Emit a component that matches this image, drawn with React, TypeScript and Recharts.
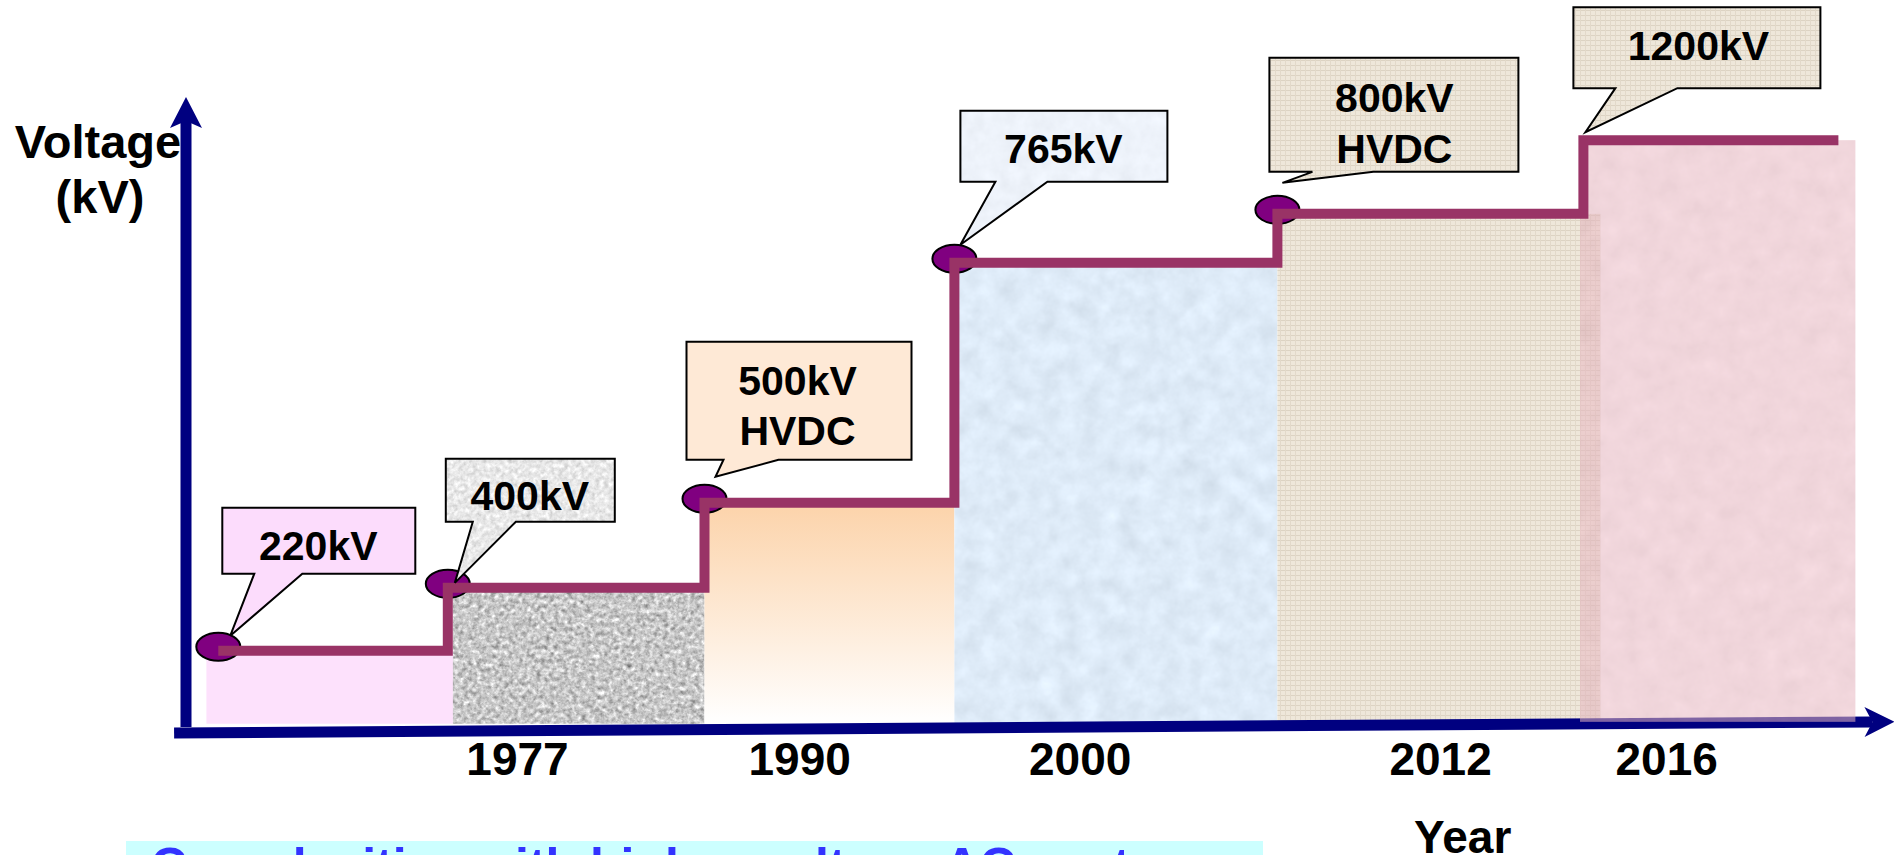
import React from 'react';
import { ComposedChart, Line, XAxis, YAxis, ReferenceArea, ReferenceLine, ReferenceDot } from 'recharts';

// schematic step chart: x and y are relative positions
const voltageLabels = [['220kV'], ['400kV'], ['500kV', 'HVDC'], ['765kV'], ['800kV', 'HVDC'], ['1200kV']];
const stepStart = [1.9, 15.4, 30.5, 45.2, 64.2, 82.2];
const stepEnd = 97.2;
const stepLevel = [12.8, 22.7, 36.1, 73.9, 81.6, 93.2];
const hasMarker = [true, true, true, true, true, false];
const bandFrom = [1.2, 15.7, 30.5, 45.2, 64.2, 82.0];
const bandTo = [15.7, 30.5, 45.2, 64.2, 83.2, 98.2];
const bandFloor = [1.3, 1.3, 1.3, 1.3, 1.3, 1.6];
const yearTicks = [19.5, 36.1, 52.6, 73.8, 87.1];
const yearLabels = ['1977', '1990', '2000', '2012', '2016'];

const lineData = [
  ...stepStart.map((x, i) => ({ x, y: stepLevel[i] })),
  { x: stepEnd, y: stepLevel[stepLevel.length - 1] },
];

const FONT = '"Liberation Sans", Arial, Helvetica, sans-serif';
const AXIS = '#000080';
const STEP = '#993366';

const bandStyle: any[] = [
  { fill: '#FDE1FC' },
  { fill: '#c8c8c8', filter: 'url(#grayGrain)' },
  { fill: 'url(#peachFade)' },
  { fill: '#dde9f5', filter: 'url(#blueGrain)' },
  { fill: 'url(#burlap)' },
  { fill: '#e6b4c0', filter: 'url(#pinkGrain)', opacity: 0.55 },
];

const calloutStyle: any[] = [
  { fill: '#FCDCFC' },
  { fill: '#e6e6e6', filter: 'url(#lightGrain)' },
  { fill: '#FEE9D6' },
  { fill: '#eef4fa', filter: 'url(#paleBlueGrain)' },
  { fill: 'url(#burlap)' },
  { fill: 'url(#burlap)' },
];

// box edges, tail base, tail tip and text placement relative to the step corner (px)
const calloutGeom = [
  { l: 4, r: 197, t: -143, b: -77, a: 36, c: 84, tx: 12, ty: -15, mid: 100, base: [-91] },
  { l: -2, r: 167, t: -129, b: -66, a: 25, c: 68, tx: 7, ty: -5, mid: 82, base: [-78] },
  { l: -18, r: 207, t: -161, b: -43, a: 19, c: 74, tx: 11, ty: -26, mid: 93, base: [-108, -58] },
  { l: 6, r: 213, t: -152, b: -81, a: 41, c: 93, tx: 6, ty: -18, mid: 109, base: [-100] },
  { l: -8, r: 241, t: -156, b: -42, a: 35, c: 96, tx: 5, ty: -31, mid: 117, base: [-102, -51] },
  { l: -10, r: 237, t: -133, b: -52, a: 32, c: 94, tx: 2, ty: -8, mid: 115, base: [-80] },
];

const arrow = (x1: number, y1: number, x2: number, y2: number, head: number, half: number, notch: number) => {
  const len = Math.hypot(x2 - x1, y2 - y1);
  const ux = (x2 - x1) / len;
  const uy = (y2 - y1) / len;
  const bx = x2 - ux * head;
  const by = y2 - uy * head;
  const nx = x2 - ux * notch;
  const ny = y2 - uy * notch;
  const px = -uy;
  const py = ux;
  return (
    <g>
      <line x1={x1} y1={y1} x2={nx} y2={ny} stroke={AXIS} strokeWidth={11} />
      <polygon
        points={`${x2},${y2} ${bx + px * half},${by + py * half} ${nx},${ny} ${bx - px * half},${by - py * half}`}
        fill={AXIS}
      />
    </g>
  );
};

const xAxisShape = (p: any) => arrow(p.x1, p.y1, p.x2, p.y2, 30, 15, 22);

const yAxisShape = (p: any) => (
  <g>
    <text x={p.x2 - 88} y={p.y2 + 61} textAnchor="middle" fontFamily={FONT} fontWeight="bold" fontSize={47} fill="#000">
      Voltage
    </text>
    <text x={p.x2 - 86} y={p.y2 + 116} textAnchor="middle" fontFamily={FONT} fontWeight="bold" fontSize={47} fill="#000">
      (kV)
    </text>
    {arrow(p.x1, p.y1, p.x2, p.y2, 31, 16, 24)}
  </g>
);

const yearTitle = (p: any) => {
  const vb = p.viewBox || { x: 186, y: 732, width: 1700, height: 60 };
  return (
    <text x={vb.x + vb.width * 0.751} y={vb.y + 121} textAnchor="middle" fontFamily={FONT} fontWeight="bold" fontSize={46} fill="#000">
      Year
    </text>
  );
};

const bandShape = (i: number) => (p: any) => {
  const s = bandStyle[i];
  return <rect x={p.x} y={p.y} width={p.width} height={p.height} fill={s.fill} filter={s.filter} opacity={s.opacity} />;
};

const markerShape = (p: any) => (
  <ellipse cx={p.cx} cy={p.cy - 4} rx={22} ry={14} fill="#800080" stroke="#000" strokeWidth={2} />
);

const calloutShape = (i: number) => (p: any) => {
  const g = calloutGeom[i];
  const s = calloutStyle[i];
  const x = p.cx;
  const y = p.cy;
  const d = `M ${x + g.l} ${y + g.t} H ${x + g.r} V ${y + g.b} H ${x + g.c} L ${x + g.tx} ${y + g.ty} L ${x + g.a} ${y + g.b} H ${x + g.l} Z`;
  return (
    <g>
      <path d={d} fill={s.fill} filter={s.filter} />
      <path d={d} fill="none" stroke="#000" strokeWidth={2} />
      {voltageLabels[i].map((txt, k) => (
        <text key={k} x={x + g.mid} y={y + g.base[k]} textAnchor="middle" fontFamily={FONT} fontWeight="bold" fontSize={41} fill="#000">
          {txt}
        </text>
      ))}
    </g>
  );
};

const Textures = () => (
  <svg width={0} height={0} style={{ position: 'absolute' }}>
    <defs>
      <linearGradient id="peachFade" x1="0" y1="0" x2="0" y2="1">
        <stop offset="0" stopColor="#FCD3AA" />
        <stop offset="1" stopColor="#FFFFFF" />
      </linearGradient>
      <pattern id="burlap" width="5" height="5" patternUnits="userSpaceOnUse">
        <rect width="5" height="5" fill="#EEE7DA" />
        <rect width="5" height="1" fill="#DCD3C3" />
        <rect width="1" height="5" fill="#E2D9CA" />
      </pattern>
      <filter id="grayGrain" colorInterpolationFilters="sRGB">
        <feTurbulence type="fractalNoise" baseFrequency="0.22" numOctaves="3" seed="4" result="t" />
        <feColorMatrix in="t" type="matrix" values="0.35 0.35 0.35 0 0.255  0.35 0.35 0.35 0 0.255  0.35 0.35 0.35 0 0.255  0 0 0 0 1" result="g" />
        <feComposite in="g" in2="SourceGraphic" operator="in" />
      </filter>
      <filter id="lightGrain" colorInterpolationFilters="sRGB">
        <feTurbulence type="fractalNoise" baseFrequency="0.22" numOctaves="3" seed="7" result="t" />
        <feColorMatrix in="t" type="matrix" values="0.18 0.18 0.18 0 0.64  0.18 0.18 0.18 0 0.64  0.18 0.18 0.18 0 0.64  0 0 0 0 1" result="g" />
        <feComposite in="g" in2="SourceGraphic" operator="in" />
      </filter>
      <filter id="blueGrain" colorInterpolationFilters="sRGB">
        <feTurbulence type="fractalNoise" baseFrequency="0.05" numOctaves="4" seed="2" result="t" />
        <feColorMatrix in="t" type="matrix" values="0.06 0.06 0.06 0 0.78  0.06 0.06 0.06 0 0.83  0.06 0.06 0.06 0 0.88  0 0 0 0 1" result="g" />
        <feComposite in="g" in2="SourceGraphic" operator="in" />
      </filter>
      <filter id="paleBlueGrain" colorInterpolationFilters="sRGB">
        <feTurbulence type="fractalNoise" baseFrequency="0.06" numOctaves="4" seed="5" result="t" />
        <feColorMatrix in="t" type="matrix" values="0.04 0.04 0.04 0 0.87  0.04 0.04 0.04 0 0.89  0.04 0.04 0.04 0 0.92  0 0 0 0 1" result="g" />
        <feComposite in="g" in2="SourceGraphic" operator="in" />
      </filter>
      <filter id="pinkGrain" colorInterpolationFilters="sRGB">
        <feTurbulence type="fractalNoise" baseFrequency="0.05" numOctaves="4" seed="9" result="t" />
        <feColorMatrix in="t" type="matrix" values="0.05 0.05 0.05 0 0.825  0.05 0.05 0.05 0 0.635  0.05 0.05 0.05 0 0.675  0 0 0 0 1" result="g" />
        <feComposite in="g" in2="SourceGraphic" operator="in" />
      </filter>
    </defs>
  </svg>
);

export default function App() {
  return (
    <div style={{ position: 'fixed', left: 0, top: 0, width: 1894, height: 855, overflow: 'hidden', background: '#fff', fontFamily: FONT }}>
      <Textures />
      <ComposedChart width={1894} height={855} data={lineData} margin={{ top: 97, right: 8, bottom: 63, left: 186 }}>
        <XAxis
          type="number"
          dataKey="x"
          domain={[0, 100]}
          ticks={yearTicks}
          interval={0}
          tickFormatter={(v: number) => yearLabels[yearTicks.indexOf(v)] ?? ''}
          axisLine={false}
          tickLine={false}
          tickMargin={4}
          height={60}
          tick={{ fontSize: 46, fontWeight: 'bold', fill: '#000', fontFamily: FONT }}
          label={yearTitle}
        />
        <YAxis type="number" domain={[0, 100]} hide />

        {bandFrom.slice(0, 5).map((x1, i) => (
          <ReferenceArea
            key={`band${i}`}
            x1={x1}
            x2={bandTo[i]}
            y1={bandFloor[i]}
            y2={stepLevel[i]}
            ifOverflow="visible"
            shape={bandShape(i)}
            zIndex={10}
          />
        ))}

        <ReferenceLine segment={[{ x: -0.7, y: -0.15 }, { x: 100.5, y: 1.6 }]} ifOverflow="visible" shape={xAxisShape} zIndex={20} />
        <ReferenceLine segment={[{ x: 0, y: 0.8 }, { x: 0, y: 100 }]} ifOverflow="visible" shape={yAxisShape} zIndex={20} />

        <ReferenceArea
          x1={bandFrom[5]}
          x2={bandTo[5]}
          y1={bandFloor[5]}
          y2={stepLevel[5]}
          ifOverflow="visible"
          shape={bandShape(5)}
          zIndex={30}
        />

        {stepStart.map((x, i) =>
          hasMarker[i] ? (
            <ReferenceDot key={`dot${i}`} x={x} y={stepLevel[i]} r={14} ifOverflow="visible" shape={markerShape} zIndex={40} />
          ) : null
        )}

        <Line
          type="stepAfter"
          dataKey="y"
          stroke={STEP}
          strokeWidth={10}
          dot={false}
          activeDot={false}
          isAnimationActive={false}
          zIndex={50}
        />

        {stepStart.map((x, i) => (
          <ReferenceDot key={`call${i}`} x={x} y={stepLevel[i]} r={1} ifOverflow="visible" shape={calloutShape(i)} zIndex={60} />
        ))}
      </ComposedChart>
      <div
        style={{
          position: 'absolute',
          left: 126,
          top: 841,
          width: 1137,
          height: 60,
          background: '#CCFFFF',
          color: '#3333FF',
          fontSize: 50,
          fontWeight: 'bold',
          lineHeight: '50px',
          paddingLeft: 25,
          boxSizing: 'border-box',
          whiteSpace: 'nowrap',
        }}
      >
        Complexities with higher voltage AC systems
      </div>
    </div>
  );
}
